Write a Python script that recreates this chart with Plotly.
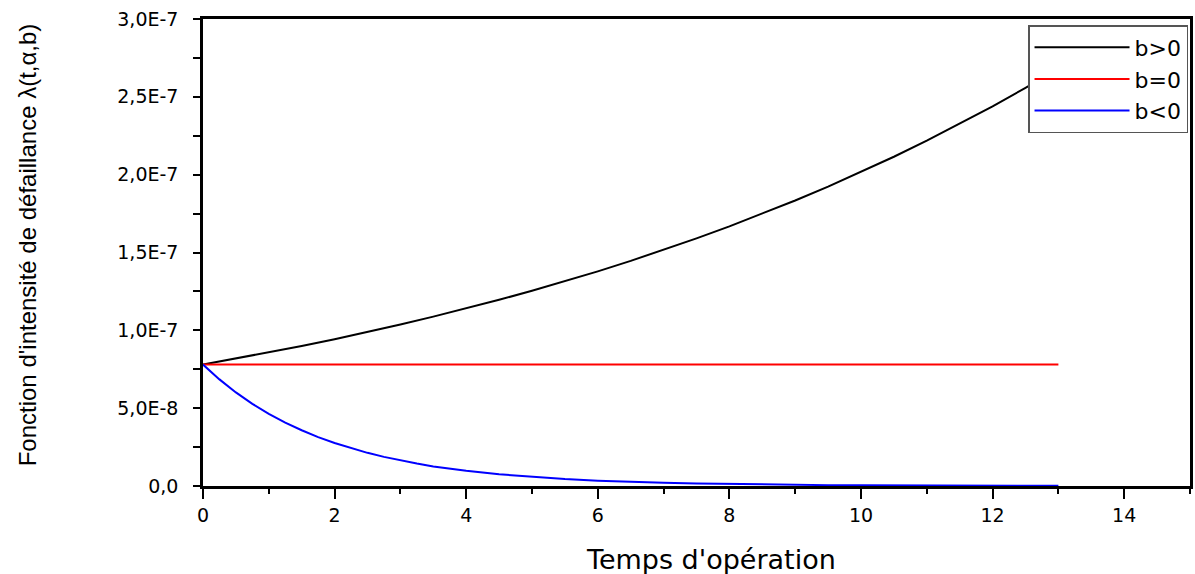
import plotly.graph_objects as go

# Operating time (x) and read-off values of the failure intensity
t = [0, 0.5, 1, 1.5, 2, 2.5, 3, 3.5, 4, 4.5, 5, 5.5, 6, 6.5, 7, 7.5, 8, 8.5,
     9, 9.5, 10, 10.5, 11, 11.5, 12, 12.5, 13]

b_pos = [7.80e-8, 8.18e-8, 8.58e-8, 8.99e-8, 9.43e-8, 9.89e-8, 1.037e-7, 1.088e-7,
         1.141e-7, 1.196e-7, 1.254e-7, 1.315e-7, 1.379e-7, 1.446e-7, 1.517e-7,
         1.591e-7, 1.668e-7, 1.749e-7, 1.834e-7, 1.923e-7, 2.017e-7, 2.115e-7,
         2.218e-7, 2.326e-7, 2.439e-7, 2.558e-7, 2.682e-7]

b_zero = [7.80e-8] * 27

t_neg = [0, 0.25, 0.5, 0.75, 1, 1.25, 1.5, 1.75, 2, 2.25, 2.5, 2.75, 3, 3.25, 3.5,
         3.75, 4, 4.5, 5, 5.5, 6, 6.5, 7, 7.5, 8, 8.5, 9, 9.5, 10, 10.5, 11,
         11.5, 12, 12.5, 13]

b_neg = [7.80e-8, 6.85e-8, 6.01e-8, 5.28e-8, 4.64e-8, 4.07e-8, 3.58e-8, 3.14e-8,
         2.76e-8, 2.42e-8, 2.13e-8, 1.87e-8, 1.64e-8, 1.44e-8, 1.26e-8, 1.11e-8,
         9.74e-9, 7.51e-9, 5.79e-9, 4.47e-9, 3.45e-9, 2.66e-9, 2.05e-9, 1.58e-9,
         1.22e-9, 9.4e-10, 7.2e-10, 5.6e-10, 4.3e-10, 3.3e-10, 2.6e-10, 2.0e-10,
         1.5e-10, 1.2e-10, 9.0e-11]

series_names = ["b>0", "b=0", "b<0"]
series_colors = ["#000000", "#ff0000", "#0000ff"]

x_tickvals = [0, 2, 4, 6, 8, 10, 12, 14]
x_ticktext = ["0", "2", "4", "6", "8", "10", "12", "14"]
y_tickvals = [0, 5e-8, 1e-7, 1.5e-7, 2e-7, 2.5e-7, 3e-7]
y_ticktext = ["0,0", "5,0E-8", "1,0E-7", "1,5E-7", "2,0E-7", "2,5E-7", "3,0E-7"]

x_title = "Temps d'opération"
y_title = "Fonction d'intensité de défaillance λ(t,α,b)"

fig = go.Figure()
for name, xs, ys, col in zip(series_names, [t, t, t_neg], [b_pos, b_zero, b_neg],
                             series_colors):
    fig.add_trace(go.Scatter(x=xs, y=ys, mode="lines", name=name,
                             line=dict(color=col, width=2)))

tick_font = dict(family="DejaVu Sans", size=19, color="#000000")

fig.update_layout(
    width=1195, height=574,
    margin=dict(l=203, r=2, t=19, b=88),
    paper_bgcolor="white", plot_bgcolor="white",
    showlegend=True,
    legend=dict(
        x=0.998, y=0.987, xanchor="right", yanchor="top",
        bgcolor="white", bordercolor="#555555", borderwidth=1.5,
        font=dict(family="DejaVu Sans", size=22, color="#000000"),
        itemwidth=95, tracegroupgap=0,
    ),
    xaxis=dict(
        range=[0, 15], tickvals=x_tickvals, ticktext=x_ticktext,
        ticks="outside", ticklen=10, tickwidth=2, tickcolor="black",
        minor=dict(ticks="outside", dtick=1, tick0=0, ticklen=5, tickwidth=2,
                   tickcolor="black", showgrid=False),
        showline=True, linecolor="black", linewidth=2.5, mirror=True,
        showgrid=False, zeroline=False, tickfont=tick_font,
    ),
    yaxis=dict(
        range=[0, 3e-7], tickvals=y_tickvals, ticktext=y_ticktext,
        ticks="", tickcolor="black",
        minor=dict(ticks="outside", dtick=2.5e-8, tick0=0, ticklen=7, tickwidth=2,
                   tickcolor="black", showgrid=False),
        showline=True, linecolor="black", linewidth=2.5, mirror=True,
        showgrid=False, zeroline=False, tickfont=tick_font,
        ticklabelstandoff=18,
    ),
    annotations=[
        dict(text=x_title, xref="paper", yref="paper", x=0.515, y=-0.158,
             xanchor="center", yanchor="middle", showarrow=False,
             font=dict(family="DejaVu Sans", size=27, color="#000000")),
        dict(text=y_title, xref="paper", yref="paper", x=-0.178, y=0.516,
             xanchor="center", yanchor="middle", showarrow=False, textangle=-90,
             font=dict(family="Liberation Sans Narrow, Liberation Sans", size=24,
                       color="#000000")),
    ],
)

fig.write_html("out.html")
